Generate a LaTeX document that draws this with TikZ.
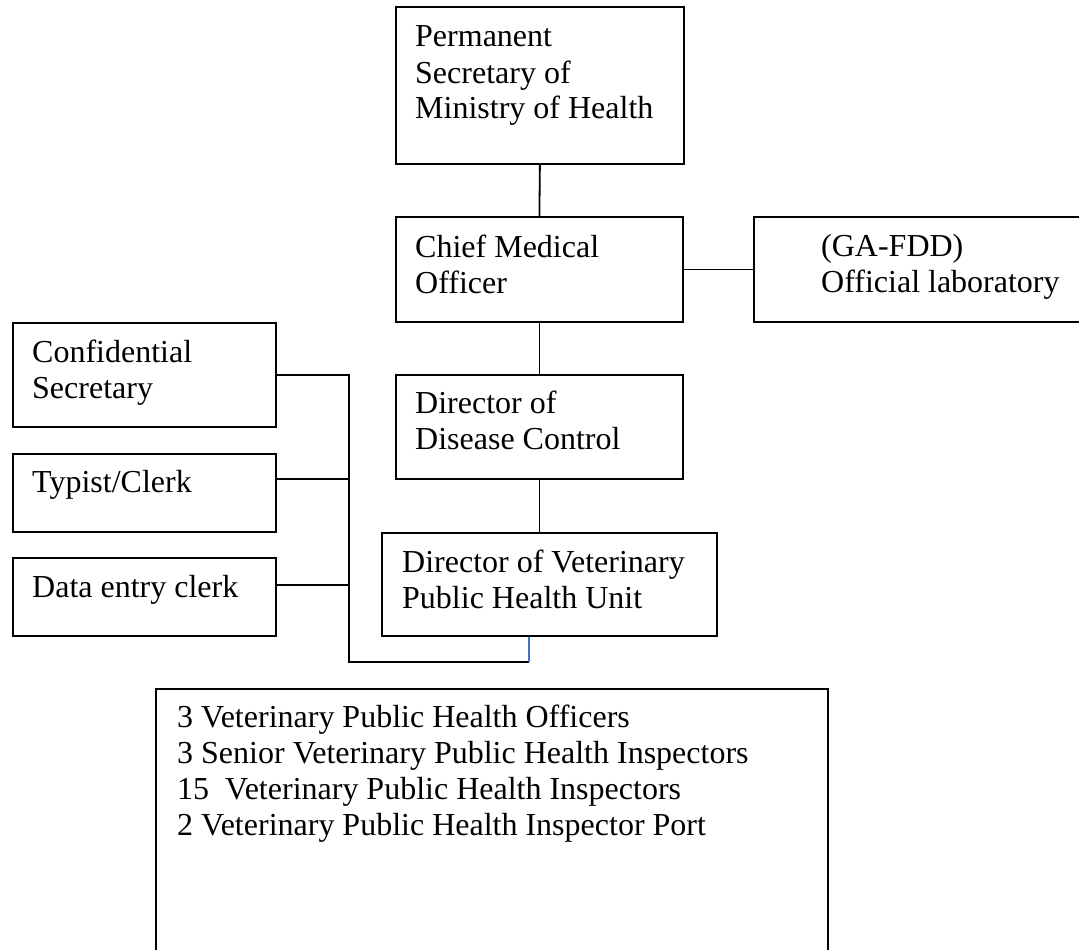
\documentclass[tikz,border=0pt]{standalone}
\usepackage{fontspec}
\setmainfont{Liberation Serif}
\usetikzlibrary{calc}
\definecolor{wordblue}{RGB}{68,114,196}
\newcommand{\ml}[1]{\begin{tabular}[t]{@{}l@{}}#1\end{tabular}}
\begin{document}
\begin{tikzpicture}[x=1pt,y=-1pt,
  box/.style={draw, line width=1.8pt, inner sep=0pt, anchor=north west},
  txt/.style={inner sep=0pt, anchor=base west, font=\fontsize{32}{36}\selectfont},
  link/.style={line width=1.8pt}]
\useasboundingbox (0,0) rectangle (1079,950);
\clip (0,0) rectangle (1079,950);
% boxes
\node[box, minimum width=288pt, minimum height=157pt] (ps) at (395,6) {};
\node[box, minimum width=287pt, minimum height=105pt] (cmo) at (395,216) {};
\node[box, minimum width=340pt, minimum height=105pt] (lab) at (753,216) {};
\node[box, minimum width=263pt, minimum height=104pt] (conf) at (12,322) {};
\node[box, minimum width=263pt, minimum height=78pt] (typ) at (12,453) {};
\node[box, minimum width=263pt, minimum height=78pt] (dat) at (12,557) {};
\node[box, minimum width=287pt, minimum height=104pt] (ddc) at (395,374) {};
\node[box, minimum width=335pt, minimum height=103pt] (dv) at (381,532) {};
\node[box, minimum width=672pt, minimum height=290pt] (staff) at (155,688) {};
% texts
\node[txt] (tps) at ($(ps.north west)+(20,41)$) {\ml{Permanent\\Secretary of\\Ministry of Health}};
\node[txt] (tcmo) at ($(cmo.north west)+(20,41)$) {\ml{Chief Medical\\Officer}};
\node[txt] (tlab) at ($(lab.north west)+(68,40)$) {\ml{(GA-FDD)\\Official laboratory}};
\node[txt] (tconf) at ($(conf.north west)+(20,40)$) {\ml{Confidential\\Secretary}};
\node[txt] (ttyp) at ($(typ.north west)+(20,39)$) {Typist/Clerk};
\node[txt] (tdat) at ($(dat.north west)+(20,40)$) {Data entry clerk};
\node[txt] (tddc) at ($(ddc.north west)+(20,39)$) {\ml{Director of\\Disease Control}};
\node[txt] (tdv) at ($(dv.north west)+(21,40)$) {\ml{Director of Veterinary\\Public Health Unit}};
\node[txt] (tstaff) at ($(staff.north west)+(22,39)$) {\ml{3 Veterinary Public Health Officers\\3 Senior Veterinary Public Health Inspectors\\15\ \ Veterinary Public Health Inspectors\\2 Veterinary Public Health Inspector Port}};
% connectors
\draw[link] (ps.south) -- (cmo.north);
\draw[link] (cmo.east) -- (lab.west);
\draw[link] (cmo.south) -- (ddc.north);
\draw[link] (ddc.south) -- (ddc.south |- dv.north);
\coordinate (bustop) at ($(conf.east)+(72,0)$);
\coordinate (busbot) at (bustop |- 0,662);
\coordinate (dvjoin) at (529,662);
\coordinate (typj) at ($(typ.north east)!0.33!(typ.south east)$);
\coordinate (datj) at ($(dat.north east)!0.35!(dat.south east)$);
\draw[link] (conf.east) -- (bustop) -- (busbot) -- (dvjoin);
\draw[link] (typj) -- (typj -| bustop);
\draw[link] (datj) -- (datj -| bustop);
\draw[wordblue, line width=1.2pt] (dvjoin |- dv.south) -- (dvjoin);
\end{tikzpicture}
\end{document}
